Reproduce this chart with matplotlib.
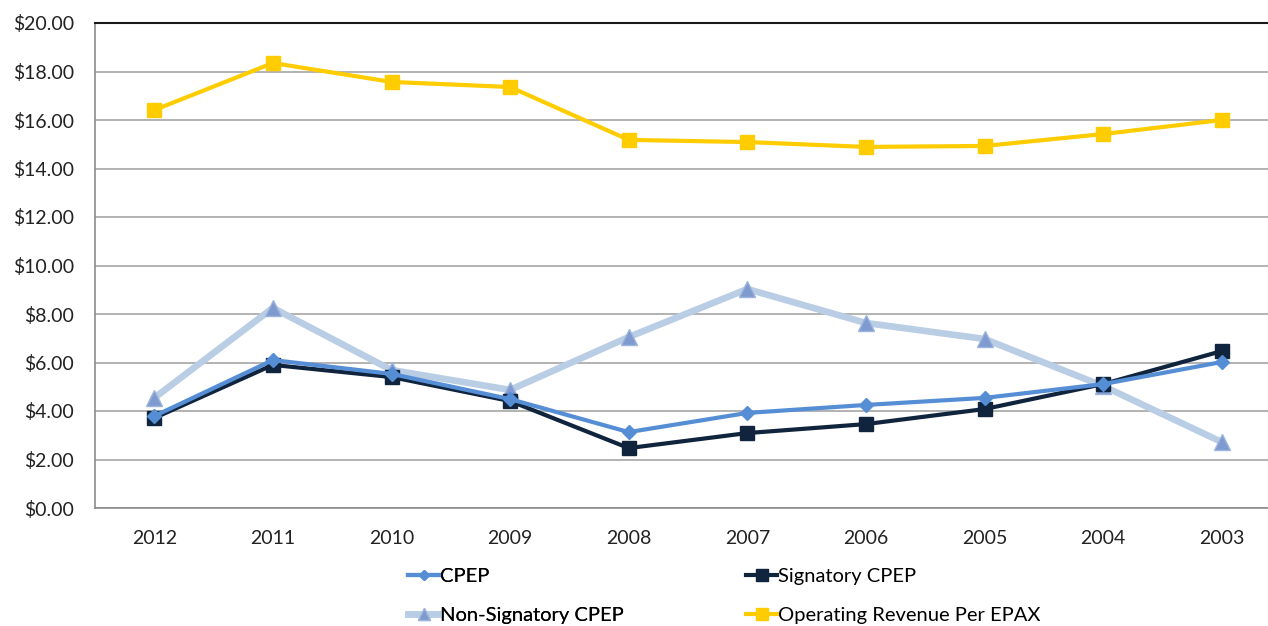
import matplotlib.pyplot as plt

# data
years = ['2012', '2011', '2010', '2009', '2008', '2007', '2006', '2005', '2004', '2003']
cpep = [3.79, 6.10, 5.53, 4.49, 3.13, 3.92, 4.25, 4.54, 5.11, 6.02]
signatory = [3.71, 5.90, 5.40, 4.41, 2.47, 3.09, 3.46, 4.08, 5.11, 6.47]
non_signatory = [4.54, 8.25, 5.69, 4.87, 7.05, 9.03, 7.63, 6.97, 5.03, 2.72]
op_revenue = [16.41, 18.35, 17.57, 17.36, 15.18, 15.09, 14.89, 14.93, 15.42, 16.00]

plt.rcParams['font.family'] = ['Lato', 'DejaVu Sans']

fig = plt.figure(figsize=(12.68, 6.26), dpi=100)
ax = fig.add_axes([95 / 1268, 1 - 508 / 626, 1186 / 1268, 485 / 626])

x = list(range(len(years)))

l_cpep, = ax.plot(x, cpep, color='#558ED5', lw=3, marker='D', ms=7,
                  markerfacecolor='#558ED5', markeredgecolor='#558ED5', zorder=4)
l_sig, = ax.plot(x, signatory, color='#10243E', lw=3, marker='s', ms=10,
                 markerfacecolor='#10243E', markeredgecolor='#10243E', zorder=3)
l_non, = ax.plot(x, non_signatory, color='#B9CDE5', lw=4.8, marker='^', ms=11,
                 markerfacecolor='#7F9ACF', markeredgecolor='#9DB4DD', zorder=2)
l_op, = ax.plot(x, op_revenue, color='#FFCC00', lw=3, marker='s', ms=10,
                markerfacecolor='#FFCC00', markeredgecolor='#FFCC00', zorder=3)

ax.set_xlim(-0.5, len(years) - 0.5)
ax.set_ylim(0, 20)
ax.set_yticks(range(0, 21, 2))
ax.set_yticklabels([f'${v:.2f}' for v in range(0, 21, 2)], fontsize=14, color='#222222')
ax.set_xticks(x)
ax.set_xticklabels(years, fontsize=14, color='#222222')
ax.tick_params(axis='both', length=0)
ax.tick_params(axis='x', pad=16)
ax.tick_params(axis='y', pad=15)

ax.yaxis.grid(True, color='#A6A6A6', lw=1.2)
ax.set_axisbelow(True)
ax.spines['right'].set_visible(False)
ax.spines['top'].set_color('#1a1a1a')
ax.spines['top'].set_linewidth(1.5)
ax.spines['left'].set_color('#8c8c8c')
ax.spines['bottom'].set_color('#8c8c8c')
ax.spines['left'].set_linewidth(1.2)
ax.spines['bottom'].set_linewidth(1.2)

# two one-column legends so each column sits where the reference has it
leg_kw = dict(loc='center left', frameon=False, fontsize=14.5, handlelength=1.55,
              handletextpad=0.05, labelspacing=1.05, borderpad=0, borderaxespad=0,
              markerscale=0.8)
leg1 = fig.legend([l_cpep, l_non], ['CPEP', 'Non-Signatory CPEP'],
                  bbox_to_anchor=(408 / 1268, 1 - 596 / 626), **leg_kw)
fig.add_artist(leg1)
fig.legend([l_sig, l_op], ['Signatory CPEP', 'Operating Revenue Per EPAX'],
           bbox_to_anchor=(746 / 1268, 1 - 596 / 626), **leg_kw)

fig.savefig('out.png', dpi=100)
